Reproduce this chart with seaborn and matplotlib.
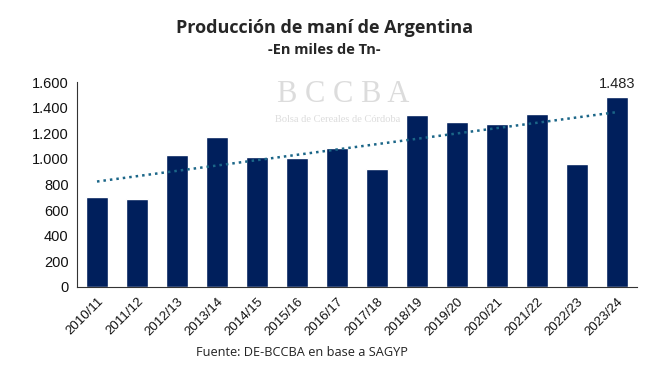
import matplotlib
matplotlib.use("Agg")
import matplotlib.pyplot as plt
import seaborn as sns
import numpy as np
import pandas as pd

# campañas y producción (miles de Tn)
campanias = ["2010/11", "2011/12", "2012/13", "2013/14", "2014/15", "2015/16", "2016/17",
             "2017/18", "2018/19", "2019/20", "2020/21", "2021/22", "2022/23", "2023/24"]
produccion = [705, 689, 1029, 1170, 1013, 1005, 1084, 924, 1342, 1290, 1272, 1350, 963, 1483]

df = pd.DataFrame({"campania": campanias, "produccion": produccion})

sns.set_style("white")
plt.rcParams["font.family"] = ["Liberation Sans", "DejaVu Sans"]

fig = plt.figure(figsize=(6.72, 3.87), dpi=100)
ax = fig.add_axes([77 / 672, 1 - 287 / 387, 560 / 672, 205 / 387])

sns.barplot(data=df, x="campania", y="produccion", color="#001f5c", width=0.53,
            saturation=1, ax=ax)

# linea de tendencia lineal
x = np.arange(len(produccion))
m, b = np.polyfit(x, produccion, 1)
ax.plot(x, m * x + b, linestyle=(0, (1, 1.6)), color="#1b6688", linewidth=1.8)

# etiqueta del último valor
ax.text(x[-1], produccion[-1] + 45, "1.483", ha="center", va="bottom", fontsize=10.5,
        color="#222222")

ax.set_ylim(0, 1600)
ax.set_xlim(-0.5, len(produccion) - 0.5)
ax.set_yticks(range(0, 1601, 200))
ax.set_yticklabels([f"{v:,}".replace(",", ".") for v in range(0, 1601, 200)], fontsize=10.5)
ax.tick_params(axis="both", length=0, pad=6, colors="#111111")
plt.setp(ax.get_xticklabels(), rotation=45, ha="right", rotation_mode="anchor", fontsize=9.5)
ax.set_xlabel("")
ax.set_ylabel("")
for s in ["top", "right"]:
    ax.spines[s].set_visible(False)
ax.spines["left"].set_color("#333333")
ax.spines["bottom"].set_color("#333333")

# marca de agua
fig.text(0.51, 1 - 94 / 387, "B C C B A", fontsize=22, family="Liberation Serif",
         color="#dcdcdc", ha="center", va="center", zorder=0)
fig.text(0.503, 1 - 120 / 387, "Bolsa de Cereales de Córdoba", fontsize=7.5,
         family="Liberation Serif", color="#dcdcdc", ha="center", va="center", zorder=0)

fig.text(0.483, 1 - 28 / 387, "Producción de maní de Argentina", fontsize=13,
         fontweight="bold", family=["Open Sans", "DejaVu Sans"], ha="center", va="center")
fig.text(0.483, 1 - 50 / 387, "-En miles de Tn-", fontsize=10.5, fontweight="bold",
         family=["Open Sans", "DejaVu Sans"], ha="center", va="center")
fig.text(0.449, 1 - 353 / 387, "Fuente: DE-BCCBA en base a SAGYP", fontsize=9.2,
         family=["Open Sans", "DejaVu Sans"], ha="center", va="center", color="#222222")

fig.savefig("out.png", dpi=100)
